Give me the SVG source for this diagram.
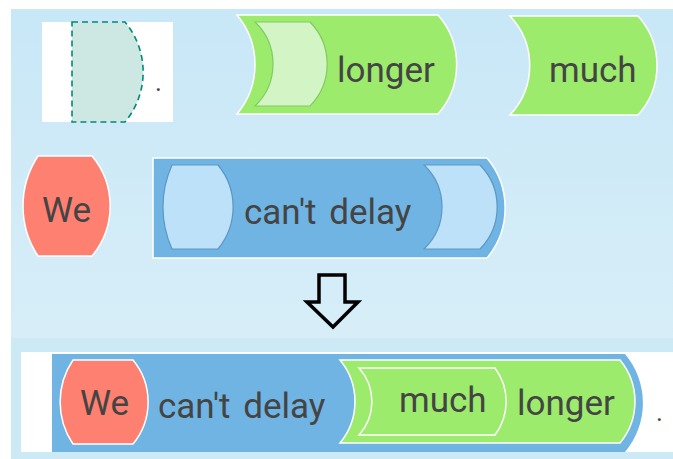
<svg xmlns="http://www.w3.org/2000/svg" width="673" height="459" viewBox="0 0 673 459">
  <defs>
    <linearGradient id="panelTop" x1="0" y1="0" x2="0" y2="1">
      <stop offset="0" stop-color="#c8e7f7"/>
      <stop offset="1" stop-color="#d7eef8"/>
    </linearGradient>
    <style>
      .lbl { font-family: Roboto, "Liberation Sans", sans-serif; font-size: 35px; fill: #444; }
      .wide { word-spacing: 4px; }
      .dot { font-family: Roboto, "Liberation Sans", sans-serif; font-size: 26px; fill: #444; }
      .green { fill: #9ceb6c; stroke: #fff; stroke-width: 1.5; }
      .red { fill: #fe8070; stroke: #fff; stroke-width: 1.5; }
      .blue { fill: #70b4e3; }
      .slot-blue { fill: #bce1f8; stroke: #5d97c4; stroke-width: 1.2; }
      .slot-green { fill: #d3f5c5; stroke: #80cc60; stroke-width: 1.2; }
    </style>
  </defs>

  <!-- backgrounds -->
  <rect x="0" y="0" width="673" height="459" fill="#fff"/>
  <rect x="11" y="9" width="662" height="329" fill="url(#panelTop)"/>
  <rect x="11" y="338" width="662" height="121" fill="#cce9f6"/>

  <!-- empty placeholder with period -->
  <g id="placeholder">
    <rect x="42" y="22" width="131" height="100" fill="#fff"/>
    <path d="M72,22 H125 A78 78 0 0 1 125,122 H72 Z" fill="#cde8e3" stroke="#00897b" stroke-width="1.6" stroke-dasharray="6 4"/>
    <text class="dot" x="155" y="91">.</text>
  </g>

  <!-- "longer" block with empty slot -->
  <g id="longer">
    <path class="green" d="M237,15 H438 A75 75 0 0 1 438,114 H237 A77 77 0 0 0 237,15 Z"/>
    <path class="slot-green" d="M255,22 H310 A60 60 0 0 1 310,106 H255 A58 58 0 0 0 255,22 Z"/>
    <text class="lbl" x="337" y="82">longer</text>
  </g>

  <!-- "much" block -->
  <g id="much">
    <path class="green" d="M510,16 H638 A74 74 0 0 1 638,115 H510 A72 72 0 0 0 510,16 Z"/>
    <text class="lbl" x="549" y="82">much</text>
  </g>

  <!-- "We" block -->
  <g id="we">
    <path class="red" d="M38,156 H92 A78 78 0 0 1 92,256 H38 A91 91 0 0 1 38,156 Z"/>
    <text class="lbl" x="42" y="222">We</text>
  </g>

  <!-- "can't delay" block with two slots -->
  <g id="cant-delay">
    <path class="blue" d="M153,158 H487 A78 78 0 0 1 487,258 H153 Z" stroke="#fff" stroke-width="1.5"/>
    <path class="slot-blue" d="M172,165 H218 A66 66 0 0 1 218,249 H172 A102 102 0 0 1 172,165 Z"/>
    <path class="slot-blue" d="M424,165 H480 A60 60 0 0 1 480,249 H424 A58 58 0 0 0 424,165 Z"/>
    <text class="lbl wide" x="244" y="224">can't delay</text>
  </g>

  <!-- transformation arrow -->
  <g id="connectors">
    <path d="M319,275 H345 V302 H358 L333,327 L307,302 H319 Z" fill="none" stroke="#000" stroke-width="3.5" stroke-linejoin="miter"/>
  </g>

  <!-- assembled result -->
  <g id="result">
    <rect x="21" y="352" width="652" height="100" fill="#fff"/>
    <path class="blue" d="M52,354 H625 A76 76 0 0 1 625,452 H52 Z"/>
    <path class="red" d="M73,360 H133 A66 66 0 0 1 133,444 H73 A75 75 0 0 1 73,360 Z"/>
    <text class="lbl" x="80" y="415">We</text>
    <text class="lbl wide" x="158" y="418">can't delay</text>
    <path class="green" d="M340,360 H620 A65 65 0 0 1 620,443 H340 A65 65 0 0 0 340,360 Z"/>
    <path d="M359,368 H495 A56 56 0 0 1 495,435 H359 A50 50 0 0 0 359,368 Z" fill="none" stroke="#fff" stroke-width="1.5"/>
    <text class="lbl" x="399" y="412">much</text>
    <text class="lbl" x="517" y="415">longer</text>
    <text class="dot" x="656" y="421">.</text>
  </g>
</svg>
